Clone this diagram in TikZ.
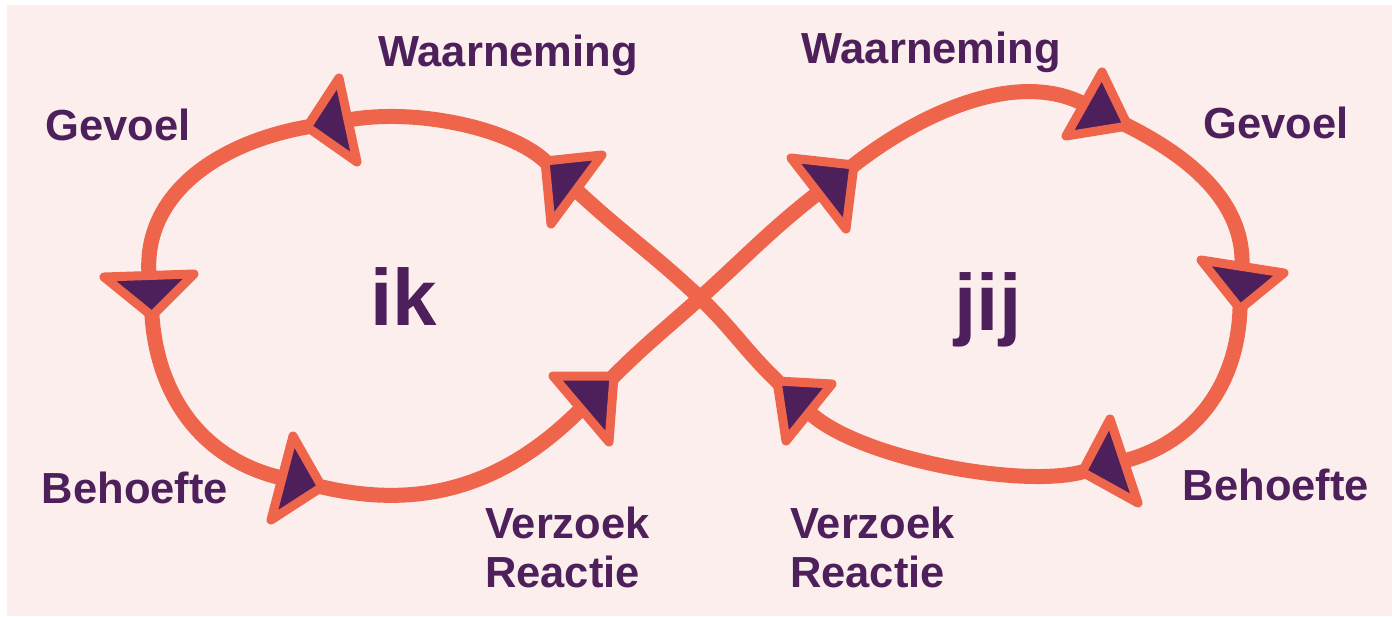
\documentclass[tikz,border=0pt]{standalone}
\usepackage{fontspec}
\setmainfont{Liberation Sans}
\definecolor{bgpink}{HTML}{FCEEEC}
\definecolor{orng}{HTML}{EE654B}
\definecolor{purp}{HTML}{4D1F5B}
\tikzset{
  loopline/.style={draw=orng, line width=15pt, line join=round},
  tri/.style={fill=purp, draw=orng, line width=9pt, line join=round},
  lbl/.style={text=purp, font=\fontsize{43.5}{50}\selectfont\bfseries, inner sep=0pt},
  big/.style={text=purp, font=\fontsize{80}{90}\selectfont\bfseries, inner sep=0pt}
}
\begin{document}
\begin{tikzpicture}[x=1pt,y=-1pt]
\useasboundingbox (0,0) rectangle (1392,616);
\fill[white] (0,0) rectangle (1392,616);
\fill[bgpink] (7,5) rectangle (1392,616);
% key points: crossing, arrow base mids (b) and tips (t)
\coordinate (C) at (700,298);
\coordinate (A1b) at (348,120);  \coordinate (A1t) at (307,127);
\coordinate (A2b) at (576,190);  \coordinate (A2t) at (545,161);
\coordinate (A3b) at (149,275);  \coordinate (A3t) at (152,316);
\coordinate (A4b) at (282,478);  \coordinate (A4t) at (322,487);
\coordinate (A5b) at (581,409);  \coordinate (A5t) at (614,376);
\coordinate (A6b) at (818,193);  \coordinate (A6t) at (854,165);
\coordinate (A7b) at (1084,104); \coordinate (A7t) at (1128,126);
\coordinate (A8b) at (1242,266); \coordinate (A8t) at (1240,309);
\coordinate (A9b) at (1124,461); \coordinate (A9t) at (1082,472);
\coordinate (A10b) at (809,412); \coordinate (A10t) at (777,381);
% figure-eight curve
\draw[loopline]
  (C) to[out=42,in=-142] (A6b) -- (A6t)
  to[out=38,in=153,looseness=0.85] (A7b) -- (A7t)
  to[out=-27,in=88,out looseness=0.8] (A8b) -- (A8t)
  to[out=-92,in=14.7] (A9b) -- (A9t)
  to[out=194.7,in=-44,looseness=0.6] (A10b) -- (A10t)
  to[out=136,in=-43.5] (C)
  to[out=136.5,in=-43] (A2b) -- (A2t)
  to[out=137,in=10,out looseness=0.6,in looseness=0.9] (A1b) -- (A1t)
  to[out=190,in=94] (A3b) -- (A3t)
  to[out=274,in=167] (A4b) -- (A4t)
  to[out=-13,in=-135] (A5b) -- (A5t)
  to[out=45,in=-138] (C);
% arrowheads
\filldraw[tri] (A1t) -- (339,78) -- (357,162) -- cycle;
\filldraw[tri] (A2t) -- (602,155) -- (551,224) -- cycle;
\filldraw[tri] (A3t) -- (104,277) -- (194,274) -- cycle;
\filldraw[tri] (A4t) -- (293,436) -- (271,520) -- cycle;
\filldraw[tri] (A5t) -- (553,376) -- (609,442) -- cycle;
\filldraw[tri] (A6t) -- (791,158) -- (846,229) -- cycle;
\filldraw[tri] (A7t) -- (1102,72) -- (1066,136) -- cycle;
\filldraw[tri] (A8t) -- (1201,260) -- (1284,273) -- cycle;
\filldraw[tri] (A9t) -- (1110,419) -- (1138,503) -- cycle;
\filldraw[tri] (A10t) -- (832,384) -- (786,441) -- cycle;
% labels
\node[lbl, anchor=base] (wl) at (508,66) {Waarneming};
\node[lbl, anchor=base] (gl) at (118,140) {Gevoel};
\node[lbl, anchor=base] (bl) at (135,503) {Behoefte};
\node[lbl, anchor=base west] (vl) at (485,538) {Verzoek};
\node[lbl, anchor=base west] (rl) at (485,587) {Reactie};
\node[big, anchor=base] (ik) at (404,325) {ik};
\node[lbl, anchor=base] (wr) at (931,63) {Waarneming};
\node[lbl, anchor=base] (gr) at (1276,138) {Gevoel};
\node[lbl, anchor=base] (br) at (1276,500) {Behoefte};
\node[lbl, anchor=base west] (vr) at (790,538) {Verzoek};
\node[lbl, anchor=base west] (rr) at (790,587) {Reactie};
\node[big, anchor=base] (jij) at (988,330) {jij};
\end{tikzpicture}
\end{document}
